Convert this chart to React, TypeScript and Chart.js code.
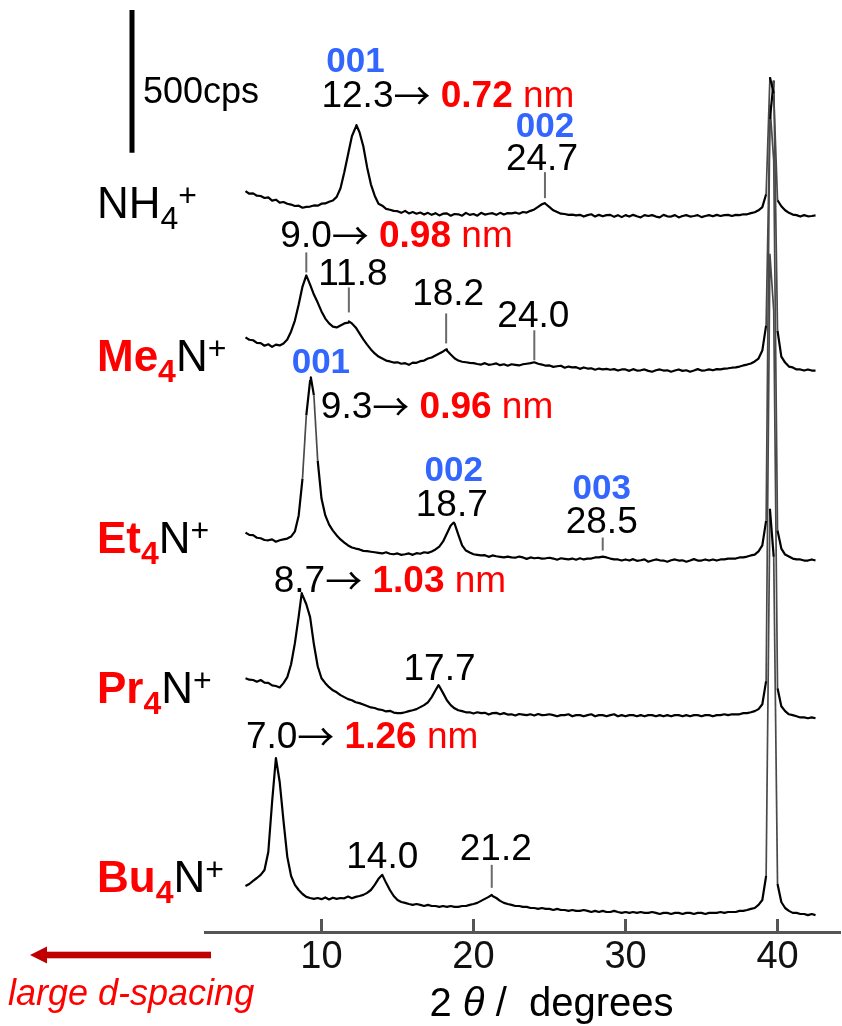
import { useEffect, useRef } from 'react';
import { Chart, registerables } from 'chart.js';

Chart.register(...registerables);

// 2θ sampling grid of the diffractograms (degrees)
const twoTheta = [
  5, 5.25, 5.5, 5.75, 6, 6.25, 6.5, 6.75, 7, 7.25,
  7.5, 7.75, 8, 8.25, 8.5, 8.75, 9, 9.25, 9.5, 9.75,
  10, 10.25, 10.5, 10.75, 11, 11.25, 11.5, 11.75, 12, 12.25,
  12.5, 12.75, 13, 13.25, 13.5, 13.75, 14, 14.25, 14.5, 14.75,
  15, 15.25, 15.5, 15.75, 16, 16.25, 16.5, 16.75, 17, 17.25,
  17.5, 17.75, 18, 18.25, 18.5, 18.75, 19, 19.25, 19.5, 19.75,
  20, 20.25, 20.5, 20.75, 21, 21.25, 21.5, 21.75, 22, 22.25,
  22.5, 22.75, 23, 23.25, 23.5, 23.75, 24, 24.25, 24.5, 24.75,
  25, 25.25, 25.5, 25.75, 26, 26.25, 26.5, 26.75, 27, 27.25,
  27.5, 27.75, 28, 28.25, 28.5, 28.75, 29, 29.25, 29.5, 29.75,
  30, 30.25, 30.5, 30.75, 31, 31.25, 31.5, 31.75, 32, 32.25,
  32.5, 32.75, 33, 33.25, 33.5, 33.75, 34, 34.25, 34.5, 34.75,
  35, 35.25, 35.5, 35.75, 36, 36.25, 36.5, 36.75, 37, 37.25,
  37.5, 37.75, 38, 38.25, 38.5, 38.75, 39, 39.25, 39.5, 39.75,
  40, 40.25, 40.5, 40.75, 41, 41.25, 41.5, 41.75, 42, 42.25,
  42.5,
];

// intensity above each pattern's own baseline on the twoTheta grid (cps)
const nh4Counts = [
  88, 79, 80, 72, 71, 64, 66, 55, 58, 48,
  50, 44, 41, 36, 37, 30, 33, 34, 38, 37,
  44, 45, 51, 55, 68, 98, 154, 217, 280, 312,
  294, 245, 172, 112, 72, 44, 37, 26, 23, 19,
  18, 12, 19, 10, 15, 9, 13, 6, 12, 5,
  11, 3, 9, 10, 2, 8, 7, 2, 12, 5,
  8, 2, 12, 6, 9, 11, 5, 12, 6, 11,
  10, 13, 9, 15, 13, 19, 24, 33, 42, 43,
  32, 21, 15, 9, 8, 5, 6, 3, 5, -1,
  4, 7, -1, 5, 0, 4, 5, -2, 4, -3,
  4, -1, 5, 0, -4, 4, 1, 4, -1, -4,
  5, 0, -1, 4, -4, 1, 4, -1, 1, 4,
  -3, 1, 4, 0, 5, 1, 4, 5, 1, 5,
  4, 7, 7, 11, 14, 21, 32, 77, 487, 430,
  56, 35, 21, 12, 6, 4, -1, 4, 0, 1,
  3,
];

const me4nCounts = [
  116, 108, 106, 97, 96, 87, 92, 83, 91, 88,
  95, 109, 137, 175, 231, 294, 333, 301, 266, 238,
  207, 182, 165, 154, 151, 158, 165, 168, 165, 151,
  130, 109, 91, 74, 60, 49, 42, 35, 32, 28,
  29, 24, 26, 20, 28, 27, 33, 35, 42, 46,
  53, 60, 67, 70, 56, 43, 35, 31, 29, 27,
  26, 23, 21, 26, 20, 22, 25, 19, 22, 17,
  22, 20, 18, 22, 24, 26, 29, 24, 21, 17,
  18, 13, 15, 17, 10, 14, 11, 12, 6, 11,
  7, 8, 3, 7, 4, 6, 3, 5, 0, 4,
  4, -1, 5, 0, 1, 4, -1, -4, 1, 4,
  0, 1, -4, 0, 4, -1, 1, -4, 0, 5,
  0, 1, 4, 1, 5, 4, 7, 8, 10, 11,
  14, 18, 21, 25, 32, 42, 70, 158, 880, 1015,
  140, 49, 28, 14, 11, 4, 4, 0, 4, 0,
  0,
];

const et4nCounts = [
  98, 90, 89, 80, 78, 72, 71, 74, 66, 71,
  74, 77, 84, 102, 158, 287, 508, 630, 578, 350,
  217, 158, 126, 105, 88, 74, 63, 53, 46, 42,
  39, 34, 33, 31, 29, 27, 25, 29, 24, 22,
  25, 20, 22, 25, 20, 26, 24, 29, 27, 32,
  39, 49, 67, 95, 123, 130, 91, 53, 35, 28,
  22, 20, 18, 19, 13, 18, 15, 13, 11, 14,
  11, 10, 14, 11, 6, 11, 8, 10, 7, 8,
  10, 7, 3, 8, 6, 4, 7, 3, 8, 4,
  7, 7, 11, 11, 14, 11, 7, 4, 4, 0,
  4, 0, 5, -1, 1, 4, -4, 0, 4, 1,
  0, -4, 1, 4, 0, 1, -4, 0, 5, 0,
  0, 4, 0, 4, 0, 4, 4, 7, 7, 7,
  11, 11, 14, 18, 21, 32, 53, 140, 1593, 1400,
  105, 42, 21, 14, 7, 4, 4, 0, 0, 4,
  0,
];

const pr4nCounts = [
  133, 128, 127, 121, 127, 118, 117, 108, 106, 101,
  116, 137, 182, 256, 350, 424, 392, 347, 252, 175,
  133, 116, 102, 91, 84, 74, 67, 60, 56, 49,
  46, 41, 36, 31, 29, 24, 22, 17, 19, 13,
  11, 11, 14, 18, 21, 25, 32, 39, 49, 67,
  91, 105, 81, 56, 39, 28, 21, 18, 14, 14,
  10, 14, 11, 12, 6, 11, 12, 7, 11, 6,
  7, 3, 8, 6, 4, 7, 3, 8, 4, 5,
  7, 4, 0, 4, 4, 7, 0, 4, 4, 0,
  4, 7, 0, 4, 4, 0, 4, 7, 0, 4,
  0, 4, 4, 0, 4, 0, 4, 4, 0, 4,
  0, 4, 0, 4, 4, 0, 4, 0, 4, 4,
  0, 4, 4, 0, 4, 4, 7, 4, 7, 7,
  7, 11, 11, 14, 18, 25, 42, 123, 1617, 1420,
  98, 35, 18, 7, 4, 0, -4, -4, -7, -4,
  -7,
];

const bu4nCounts = [
  98, 105, 116, 126, 137, 154, 217, 392, 546, 462,
  326, 200, 133, 102, 84, 70, 60, 56, 53, 56,
  52, 58, 51, 57, 53, 56, 55, 61, 55, 60,
  63, 67, 74, 84, 102, 123, 137, 109, 84, 63,
  49, 42, 39, 35, 32, 35, 32, 28, 32, 28,
  28, 25, 28, 25, 28, 25, 25, 28, 28, 32,
  35, 39, 46, 53, 60, 63, 56, 46, 39, 35,
  32, 28, 28, 25, 25, 21, 21, 18, 21, 18,
  18, 14, 18, 14, 14, 11, 14, 11, 11, 14,
  11, 7, 11, 7, 11, 7, 7, 11, 7, 4,
  7, 4, 7, 4, 7, 4, 4, 7, 4, 0,
  4, 4, 0, 4, 4, 0, 4, 4, 0, 4,
  4, 0, 4, 4, 4, 7, 4, 7, 7, 7,
  11, 11, 14, 18, 21, 32, 49, 133, 1418, 1250,
  105, 42, 21, 11, 4, 4, 0, 0, -4, 0,
  -4,
];

// labelled maxima that fall between grid points: 2θ (deg) and counts (cps)
const nh4PeakTheta = [12.3, 24.7];
const nh4PeakCounts = [319, 46];
const me4nPeakTheta = [11.8, 18.2];
const me4nPeakCounts = [172, 74];
const et4nPeakTheta = [9.3, 18.7];
const et4nPeakCounts = [641, 133];
const pr4nPeakTheta = [8.7, 17.7];
const pr4nPeakCounts = [431, 109];
const bu4nPeakTheta = [21.2];
const bu4nPeakCounts = [67];

// vertical stacking offset of each pattern (cps)
const stackOffsets = [2505, 1965, 1300, 755, 63];
const cations = ['NH4+', 'Me4N+', 'Et4N+', 'Pr4N+', 'Bu4N+'];

// basal (001) reflection and the resulting interlayer spacing
const basalTheta = [12.3, 9.0, 9.3, 8.7, 7.0];
const basalSpacingNm = [0.72, 0.98, 0.96, 1.03, 1.26];

// other labelled reflections: pattern index, 2θ
const reflectionSeries = [0, 1, 1, 1, 2, 2, 3, 4, 4];
const reflectionTheta = [24.7, 11.8, 18.2, 24.0, 18.7, 28.5, 17.7, 14.0, 21.2];

// Miller indices: pattern index, 2θ, hkl
const millerSeries = [0, 0, 2, 2, 2];
const millerTheta = [12.3, 24.7, 9.3, 18.7, 28.5];
const millerIndex = ['001', '002', '001', '002', '003'];

const tickValues = [10, 20, 30, 40];
const scaleBarCps = 500;
const yMaxCps = 3262;
const xMinDeg = 2.336;
const xMaxDeg = 44.11;

const countsBySeries = [nh4Counts, me4nCounts, et4nCounts, pr4nCounts, bu4nCounts];
const peakThetaBySeries = [nh4PeakTheta, me4nPeakTheta, et4nPeakTheta, pr4nPeakTheta, bu4nPeakTheta];
const peakCountsBySeries = [nh4PeakCounts, me4nPeakCounts, et4nPeakCounts, pr4nPeakCounts, bu4nPeakCounts];

function buildPoints(i: number) {
  const pts = twoTheta.map((t, k) => ({ x: t, y: countsBySeries[i][k] + stackOffsets[i] }));
  peakThetaBySeries[i].forEach((t, k) => pts.push({ x: t, y: peakCountsBySeries[i][k] + stackOffsets[i] }));
  pts.sort((a, b) => a.x - b.x);
  return pts;
}

const SANS = '"Liberation Sans", Arial, Helvetica, sans-serif';
const font = (size: number, weight = 'normal', style = 'normal') => `${style} ${weight} ${size}px ${SANS}`;
const ARROW_FONT = 'normal normal 37px "Noto Sans CJK JP", "DejaVu Sans", sans-serif';
const RED = '#ff0000';
const BLUE = '#3366ff';
const INK = '#000000';
const MARK = '#6a6a6a';

type Run = { t: string; f: string; c: string; dy?: number };

function drawRuns(ctx: CanvasRenderingContext2D, x: number, y: number, runs: Run[], align: 'left' | 'center' = 'left') {
  ctx.textAlign = 'left';
  ctx.textBaseline = 'alphabetic';
  let total = 0;
  runs.forEach((r) => {
    ctx.font = r.f;
    total += ctx.measureText(r.t).width;
  });
  let cx = align === 'center' ? x - total / 2 : x;
  runs.forEach((r) => {
    ctx.font = r.f;
    ctx.fillStyle = r.c;
    ctx.fillText(r.t, cx, y + (r.dy || 0));
    cx += ctx.measureText(r.t).width;
  });
}

function cationRuns(name: string): Run[] {
  const m = /^(NH|Me|Et|Pr|Bu)4(N?)\+$/.exec(name);
  if (!m) return [{ t: name, f: font(44), c: INK }];
  const isAlkyl = m[1] !== 'NH';
  const runs: Run[] = [
    { t: m[1], f: isAlkyl ? font(44, 'bold') : font(44), c: isAlkyl ? RED : INK },
    { t: '4', f: isAlkyl ? font(32, 'bold') : font(32), c: isAlkyl ? RED : INK, dy: 11 },
  ];
  if (m[2]) runs.push({ t: m[2], f: font(44), c: INK });
  runs.push({ t: '+', f: font(32), c: INK, dy: -12 });
  return runs;
}

// pixel layout of the annotations, relative to the labelled maximum
const nameDy = [2, 0, -8, -13, -22];
const basalLayout = [
  { dx: -35, dy: -18, mark: null as null | number[] },
  { dx: -26, dy: -28, mark: [-3, -23] },
  { dx: 10, dy: 41, mark: null },
  { dx: -28, dy: -1, mark: null },
  { dx: -30, dy: -10, mark: null },
];
const reflectionLayout = [
  { dx: -3, dy: -33, mark: [-5, -31] },
  { dx: 4, dy: -36, mark: [-9, -34] },
  { dx: 2, dy: -44, mark: [-6, -36] },
  { dx: -1, dy: -35, mark: [-2, -32] },
  { dx: -2, dy: -7, mark: null as null | number[] },
  { dx: -1, dy: -24, mark: [-6, -19] },
  { dx: 1, dy: -5, mark: null },
  { dx: 0, dy: -7, mark: null },
  { dx: 4, dy: -35, mark: [-7, -30] },
];
const millerLayout = [
  { dx: -1, dy: -53 },
  { dx: 0, dy: -66 },
  { dx: 10, dy: -4 },
  { dx: 0, dy: -42 },
  { dx: -1, dy: -58 },
];

const annotationPlugin = {
  id: 'xrdAnnotations',
  afterDraw(chart: any) {
    const { ctx, chartArea } = chart;
    const xs = chart.scales.x;
    const ys = chart.scales.y;
    const countsAt = (i: number, theta: number) => {
      const pts = chart.data.datasets[i].data as { x: number; y: number }[];
      const p = pts.find((q) => Math.abs(q.x - theta) < 1e-6);
      return p ? p.y : stackOffsets[i];
    };
    const anchor = (i: number, theta: number) => ({
      x: xs.getPixelForValue(theta),
      y: ys.getPixelForValue(countsAt(i, theta)),
    });
    const marker = (x: number, y0: number, y1: number) => {
      ctx.save();
      ctx.strokeStyle = MARK;
      ctx.lineWidth = 2;
      ctx.beginPath();
      ctx.moveTo(x, y0);
      ctx.lineTo(x, y1);
      ctx.stroke();
      ctx.restore();
    };

    ctx.save();

    // inward tick marks on the 2θ axis
    ctx.strokeStyle = '#555';
    ctx.lineWidth = 3;
    tickValues.forEach((v) => {
      const px = xs.getPixelForValue(v);
      ctx.beginPath();
      ctx.moveTo(px, chartArea.bottom);
      ctx.lineTo(px, chartArea.bottom - 13);
      ctx.stroke();
    });

    // intensity scale bar
    const barX = chartArea.left - 73;
    const barTop = chartArea.top + 10;
    const barBottom = ys.getPixelForValue(ys.getValueForPixel(barTop) - scaleBarCps);
    ctx.strokeStyle = '#000';
    ctx.lineWidth = 5;
    ctx.beginPath();
    ctx.moveTo(barX, barTop);
    ctx.lineTo(barX, barBottom);
    ctx.stroke();
    drawRuns(ctx, barX + 11, barTop + 93, [{ t: `${scaleBarCps}cps`, f: font(36), c: INK }]);

    // cation names
    cations.forEach((name, i) => {
      const y = ys.getPixelForValue(stackOffsets[i]) + nameDy[i];
      drawRuns(ctx, chartArea.left - 108, y, cationRuns(name));
    });

    // basal reflection → d-spacing
    basalTheta.forEach((theta, i) => {
      const p = anchor(i, theta);
      const l = basalLayout[i];
      if (l.mark) marker(p.x, p.y + l.mark[0], p.y + l.mark[1]);
      drawRuns(ctx, p.x + l.dx, p.y + l.dy, [
        { t: theta.toFixed(1), f: font(37), c: INK },
        { t: '\u2192', f: ARROW_FONT, c: INK, dy: 3 },
        { t: ' ', f: font(37), c: INK },
        { t: basalSpacingNm[i].toFixed(2), f: font(37, 'bold'), c: RED },
        { t: ' nm', f: font(37), c: RED },
      ]);
    });

    // other reflection positions
    reflectionTheta.forEach((theta, k) => {
      const p = anchor(reflectionSeries[k], theta);
      const l = reflectionLayout[k];
      if (l.mark) marker(p.x, p.y + l.mark[0], p.y + l.mark[1]);
      drawRuns(ctx, p.x + l.dx, p.y + l.dy, [{ t: theta.toFixed(1), f: font(37), c: INK }], 'center');
    });

    // Miller indices
    millerTheta.forEach((theta, k) => {
      const p = anchor(millerSeries[k], theta);
      const l = millerLayout[k];
      drawRuns(ctx, p.x + l.dx, p.y + l.dy, [{ t: millerIndex[k], f: font(35, 'bold'), c: BLUE }], 'center');
    });

    // axis title
    drawRuns(ctx, xs.getPixelForValue(25) - 120, chartArea.bottom + 84, [
      { t: '2 ', f: font(40), c: INK },
      { t: '\u03b8', f: font(40, 'normal', 'italic'), c: INK },
      { t: ' /  degrees', f: font(40), c: INK },
    ]);

    // direction of larger interlayer spacing
    const ay = chartArea.bottom + 23;
    ctx.fillStyle = '#c00000';
    ctx.fillRect(46, ay - 3.3, 165, 6.6);
    ctx.beginPath();
    ctx.moveTo(30, ay);
    ctx.lineTo(47, ay - 8.5);
    ctx.lineTo(47, ay + 8.5);
    ctx.closePath();
    ctx.fill();
    drawRuns(ctx, 8, chartArea.bottom + 73, [{ t: 'large d-spacing', f: font(36, 'normal', 'italic'), c: RED }]);

    ctx.restore();
  },
};

// steep flanks of the sharp reflections render lighter and thinner
const steep = (c: any) => Math.abs(c.p1.y - c.p0.y) > 50;

export default function App() {
  const canvasRef = useRef<HTMLCanvasElement>(null);

  useEffect(() => {
    const canvas = canvasRef.current;
    if (!canvas) return;
    const chart = new Chart(canvas, {
      type: 'line',
      data: {
        datasets: cations.map((name, i) => ({
          label: name,
          data: buildPoints(i),
          borderColor: '#000',
          borderWidth: 2.2,
          borderJoinStyle: 'round' as const,
          pointRadius: 0,
          tension: 0,
          fill: false,
          segment: {
            borderColor: (c: any) => (steep(c) ? '#4a4a4a' : undefined),
            borderWidth: (c: any) => (steep(c) ? 1.7 : undefined),
          },
        })),
      },
      options: {
        responsive: false,
        animation: false,
        devicePixelRatio: 1,
        events: [],
        layout: { padding: { left: 205, right: 2, top: 0, bottom: 0 } },
        plugins: {
          legend: { display: false },
          tooltip: { enabled: false },
        },
        scales: {
          x: {
            type: 'linear',
            min: xMinDeg,
            max: xMaxDeg,
            afterFit: (s: any) => {
              s.height = 94;
            },
            afterBuildTicks: (s: any) => {
              s.ticks = tickValues.map((v) => ({ value: v }));
            },
            grid: { display: false, drawTicks: false },
            border: { display: true, color: '#555', width: 3 },
            ticks: {
              autoSkip: false,
              maxRotation: 0,
              padding: 3,
              color: '#111',
              font: { family: SANS, size: 38 },
            },
          },
          y: {
            display: false,
            min: 0,
            max: yMaxCps,
          },
        },
      },
      plugins: [annotationPlugin],
    });
    return () => chart.destroy();
  }, []);

  return (
    <div style={{ position: 'absolute', left: 0, top: 0, width: 842, height: 1026, background: '#fff' }}>
      <canvas ref={canvasRef} width={842} height={1026} style={{ display: 'block', width: 842, height: 1026 }} />
    </div>
  );
}
